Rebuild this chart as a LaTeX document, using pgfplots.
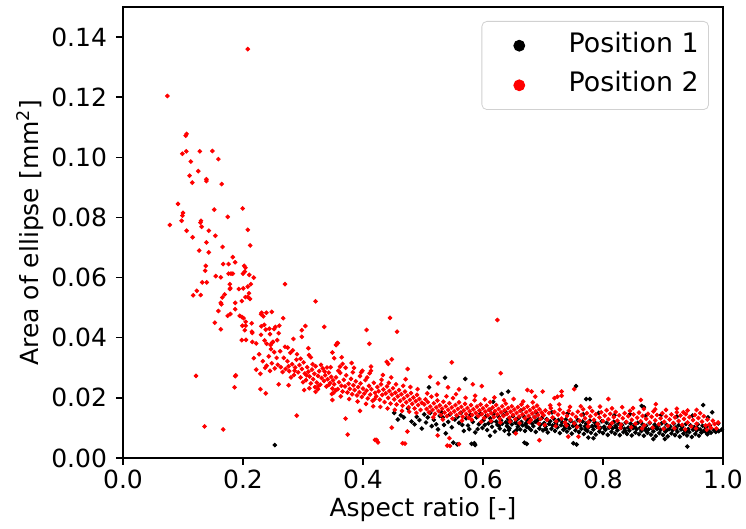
\documentclass[border=0pt]{standalone}
\usepackage{fontspec}
\setmainfont{DejaVu Sans}
\usepackage{pgfplots}
\pgfplotsset{compat=1.18}
\newcommand{\fs}{\fontsize{12.5}{15}\selectfont}
\newcommand{\lfs}{\fontsize{13.4}{16}\selectfont}
\begin{document}
\begin{tikzpicture}
\begin{axis}[
  scale only axis, width=300pt, height=225.5pt,
  xmin=0, xmax=1, ymin=0, ymax=0.15,
  xtick={0,0.2,0.4,0.6,0.8,1.0},
  ytick={0,0.02,0.04,0.06,0.08,0.10,0.12,0.14},
  scaled ticks=false,
  xticklabel style={yshift=1pt, /pgf/number format/.cd,fixed,fixed zerofill,precision=1,assume math mode=true},
  yticklabel style={xshift=-1pt, /pgf/number format/.cd,fixed,fixed zerofill,precision=2,assume math mode=true},
  tick label style={font=\fs},
  label style={font=\fs},
  tick align=outside, xtick pos=left, ytick pos=left,
  major tick length=3.5pt,
  every tick/.style={black, line width=0.75pt},
  axis line style={line width=0.75pt},
  xlabel={Aspect ratio [-]},
  ylabel={Area of ellipse [mm\textsuperscript{2}]},
  xlabel style={at={(rel axis cs:0.5,0)}, anchor=center, yshift=-26pt},
  ylabel style={at={(rel axis cs:0,0.5)}, anchor=center, yshift=46.5pt},
  legend style={at={(rel axis cs:1,1)}, xshift=-7pt, yshift=-7pt, anchor=north east,
    draw=black!18, rounded corners=2.5pt, font=\lfs, inner xsep=3pt, inner ysep=4pt,
    row sep=3.5pt, nodes={inner sep=2pt, text height=9.5pt, text depth=2.8pt}},
  legend cell align=left,
  legend image code/.code={\path (0pt,0pt) (38pt,0pt); \fill (15.5pt,0pt) circle (2.75pt);},
]
\addplot[only marks, mark=*, mark size=0.95pt, color=black] table {
x y
0.253 0.0043
0.5367 0.0267
0.5705 0.0263
0.468 0.0135
0.481 0.0121
0.4895 0.0137
0.475 0.0165
0.508 0.0135
0.5145 0.0106
0.522 0.0112
0.502 0.0145
0.533 0.0135
0.531 0.0152
0.538 0.0082
0.542 0.0120
0.5505 0.0051
0.5655 0.0110
0.5772 0.0096
0.591 0.0096
0.581 0.0047
0.5855 0.0049
0.5577 0.0137
0.603 0.0110
0.6117 0.0074
0.6145 0.0121
0.631 0.0213
0.642 0.0221
0.6433 0.0093
0.6433 0.0079
0.669 0.0051
0.656 0.0093
0.671 0.0110
0.617 0.0187
0.510 0.0235
0.755 0.0239
0.772 0.0196
0.778 0.0196
0.8645 0.0173
0.868 0.0169
0.967 0.0176
0.982 0.0152
0.992 0.0115
0.998 0.0095
0.9405 0.0038
0.7505 0.0049
0.784 0.0066
0.7755 0.0068
0.903 0.0063
0.884 0.0063
0.557 0.0045
0.587 0.0043
0.673 0.0047
0.756 0.0045
0.452 0.0150
0.458 0.0128
0.463 0.0142
0.486 0.0112
0.494 0.0126
0.498 0.0098
0.505 0.0118
0.512 0.0150
0.518 0.0127
0.525 0.0095
0.528 0.0140
0.535 0.0110
0.545 0.0145
0.548 0.0102
0.553 0.0128
0.560 0.0117
0.563 0.0150
0.568 0.0090
0.572 0.0132
0.575 0.0108
0.579 0.0143
0.583 0.0120
0.587 0.0085
0.589 0.0135
0.593 0.0112
0.596 0.0148
0.599 0.0100
0.601 0.0126
0.605 0.0139
0.607 0.0093
0.609 0.0115
0.612 0.0132
0.615 0.0104
0.618 0.0145
0.620 0.0088
0.622 0.0121
0.624 0.0110
0.626 0.0137
0.628 0.0098
0.630 0.0125
0.632 0.0114
0.634 0.0142
0.636 0.0091
0.638 0.0119
0.640 0.0106
0.642 0.0130
0.644 0.0099
0.646 0.0123
0.648 0.0112
0.650 0.0140
0.652 0.0086
0.654 0.0117
0.656 0.0127
0.658 0.0104
0.660 0.0134
0.662 0.0095
0.664 0.0120
0.666 0.0109
0.668 0.0138
0.670 0.0090
0.672 0.0116
0.674 0.0126
0.676 0.0101
0.678 0.0131
0.680 0.0093
0.682 0.0114
0.684 0.0106
0.686 0.0136
0.688 0.0087
0.690 0.0119
0.692 0.0128
0.694 0.0098
0.696 0.0111
0.698 0.0133
0.700 0.0092
0.702 0.0116
0.704 0.0105
0.706 0.0129
0.708 0.0085
0.710 0.0113
0.712 0.0122
0.714 0.0097
0.716 0.0108
0.718 0.0131
0.720 0.0090
0.722 0.0112
0.724 0.0102
0.726 0.0126
0.728 0.0083
0.730 0.0109
0.732 0.0119
0.734 0.0094
0.736 0.0106
0.738 0.0128
0.740 0.0088
0.742 0.0110
0.744 0.0099
0.746 0.0123
0.748 0.0081
0.750 0.0107
0.752 0.0117
0.754 0.0092
0.756 0.0104
0.758 0.0126
0.760 0.0086
0.762 0.0108
0.764 0.0097
0.766 0.0121
0.768 0.0080
0.770 0.0105
0.772 0.0115
0.774 0.0090
0.776 0.0102
0.778 0.0124
0.780 0.0084
0.782 0.0106
0.784 0.0095
0.786 0.0119
0.788 0.0078
0.790 0.0103
0.792 0.0113
0.794 0.0088
0.796 0.0100
0.798 0.0122
0.800 0.0083
0.802 0.0104
0.804 0.0094
0.806 0.0117
0.808 0.0077
0.810 0.0101
0.812 0.0111
0.814 0.0087
0.816 0.0099
0.818 0.0120
0.820 0.0081
0.822 0.0102
0.824 0.0092
0.826 0.0115
0.828 0.0076
0.830 0.0100
0.832 0.0110
0.834 0.0086
0.836 0.0097
0.838 0.0118
0.840 0.0080
0.842 0.0101
0.844 0.0091
0.846 0.0114
0.848 0.0075
0.850 0.0099
0.852 0.0108
0.854 0.0085
0.856 0.0096
0.858 0.0117
0.860 0.0079
0.862 0.0100
0.864 0.0090
0.866 0.0112
0.868 0.0074
0.870 0.0098
0.872 0.0107
0.874 0.0084
0.876 0.0095
0.878 0.0116
0.880 0.0078
0.882 0.0099
0.884 0.0089
0.886 0.0111
0.888 0.0073
0.890 0.0097
0.892 0.0106
0.894 0.0083
0.896 0.0094
0.898 0.0115
0.900 0.0077
0.902 0.0098
0.904 0.0088
0.906 0.0110
0.908 0.0072
0.910 0.0096
0.912 0.0105
0.914 0.0082
0.916 0.0093
0.918 0.0114
0.920 0.0076
0.922 0.0097
0.924 0.0087
0.926 0.0109
0.928 0.0071
0.930 0.0095
0.932 0.0104
0.934 0.0081
0.936 0.0092
0.938 0.0113
0.940 0.0075
0.942 0.0096
0.944 0.0086
0.946 0.0108
0.948 0.0070
0.950 0.0094
0.952 0.0103
0.954 0.0080
0.956 0.0091
0.958 0.0112
0.960 0.0074
0.962 0.0095
0.964 0.0085
0.966 0.0107
0.968 0.0090
0.970 0.0093
0.972 0.0102
0.974 0.0079
0.976 0.0090
0.978 0.0108
0.980 0.0084
0.985 0.0092
0.988 0.0087
0.993 0.0089
0.611 0.0160
0.637 0.0155
0.663 0.0158
0.689 0.0150
0.715 0.0152
0.741 0.0148
0.767 0.0145
0.793 0.0150
0.819 0.0142
0.845 0.0146
0.871 0.0140
0.897 0.0143
0.923 0.0138
0.949 0.0141
0.975 0.0135
0.627 0.0108
0.641 0.0117
0.659 0.0112
0.673 0.0103
0.687 0.0121
0.705 0.0096
0.721 0.0118
0.737 0.0100
0.753 0.0112
0.771 0.0094
0.787 0.0108
0.803 0.0098
0.821 0.0107
0.837 0.0090
0.853 0.0103
0.871 0.0092
0.887 0.0102
0.905 0.0090
0.921 0.0101
0.939 0.0089
0.957 0.0099
0.971 0.0087
};
\addlegendentry{Position 1}
\addplot[only marks, mark=*, mark size=0.95pt, color=red] table {
x y
0.208 0.136
0.074 0.1204
0.106 0.1078
0.1045 0.1072
0.099 0.1012
0.1055 0.1020
0.128 0.1020
0.149 0.1021
0.159 0.0994
0.113 0.0986
0.1255 0.0954
0.111 0.0939
0.139 0.0927
0.1155 0.0916
0.139 0.0921
0.1645 0.0911
0.0917 0.0845
0.100 0.0815
0.099 0.0806
0.152 0.0826
0.1995 0.0830
0.078 0.0775
0.0978 0.0789
0.130 0.0789
0.129 0.0783
0.1745 0.0802
0.131 0.0769
0.106 0.0756
0.143 0.0756
0.208 0.0759
0.116 0.0734
0.154 0.0739
0.139 0.0717
0.166 0.0702
0.212 0.0707
0.127 0.0690
0.143 0.0684
0.183 0.0668
0.176 0.0645
0.187 0.0651
0.138 0.0639
0.137 0.0623
0.202 0.0639
0.204 0.0633
0.167 0.0645
0.203 0.0620
0.200 0.0613
0.176 0.0613
0.180 0.0613
0.183 0.0613
0.1545 0.0605
0.163 0.0601
0.2105 0.0609
0.218 0.0600
0.132 0.0584
0.1395 0.0584
0.178 0.0578
0.179 0.0565
0.178 0.0562
0.213 0.0578
0.208 0.0570
0.2005 0.0564
0.193 0.0562
0.270 0.0578
0.123 0.0556
0.117 0.0541
0.1295 0.0542
0.1695 0.0544
0.1655 0.0534
0.210 0.0548
0.204 0.0535
0.2117 0.0529
0.2078 0.0536
0.163 0.0516
0.164 0.0511
0.187 0.0516
0.198 0.0522
0.321 0.0521
0.187 0.0495
0.159 0.0489
0.179 0.0479
0.1745 0.0473
0.1945 0.0473
0.198 0.0469
0.201 0.0465
0.2045 0.0453
0.153 0.0450
0.163 0.0428
0.199 0.0440
0.2045 0.0440
0.203 0.0425
0.2145 0.0448
0.215 0.0420
0.2155 0.0416
0.231 0.0483
0.230 0.0478
0.234 0.0471
0.239 0.0483
0.248 0.0486
0.267 0.0465
0.2355 0.0443
0.2305 0.0438
0.238 0.0427
0.244 0.0430
0.252 0.0429
0.254 0.0436
0.2605 0.0440
0.230 0.0410
0.245 0.0412
0.2595 0.0415
0.198 0.0392
0.205 0.0393
0.2155 0.0386
0.222 0.0381
0.236 0.0391
0.2395 0.0380
0.246 0.0376
0.248 0.0382
0.257 0.0392
0.250 0.0386
0.2745 0.0367
0.284 0.0396
0.298 0.0425
0.298 0.0403
0.304 0.0439
0.3355 0.0436
0.309 0.0365
0.3555 0.0376
0.357 0.0382
0.2467 0.0362
0.1217 0.0273
0.188 0.0275
0.187 0.0272
0.186 0.0235
0.136 0.0105
0.167 0.0095
0.2895 0.0141
0.229 0.0229
0.238 0.0215
0.2595 0.0245
0.276 0.0242
0.302 0.0226
0.3105 0.0232
0.321 0.0220
0.325 0.0229
0.349 0.0193
0.348 0.0213
0.351 0.0217
0.355 0.0226
0.218 0.0332
0.227 0.0345
0.222 0.0294
0.229 0.0280
0.2395 0.0307
0.245 0.0290
0.258 0.0310
0.263 0.0302
0.268 0.0333
0.271 0.0296
0.274 0.0322
0.277 0.0289
0.279 0.0350
0.282 0.0312
0.285 0.0276
0.287 0.0301
0.289 0.0327
0.292 0.0285
0.294 0.0309
0.296 0.0268
0.298 0.0296
0.301 0.0318
0.303 0.0281
0.305 0.0259
0.307 0.0302
0.309 0.0287
0.311 0.0271
0.313 0.0335
0.315 0.0294
0.317 0.0262
0.319 0.0280
0.321 0.0305
0.323 0.0251
0.325 0.0273
0.327 0.0289
0.329 0.0244
0.331 0.0266
0.333 0.0298
0.335 0.0256
0.337 0.0275
0.339 0.0238
0.341 0.0262
0.343 0.0284
0.345 0.0249
0.347 0.0270
0.349 0.0231
0.262 0.0355
0.270 0.0370
0.280 0.0268
0.290 0.0345
0.300 0.0252
0.310 0.0342
0.320 0.0236
0.330 0.0310
0.340 0.0301
0.350 0.0258
0.256 0.0333
0.266 0.0286
0.276 0.0305
0.286 0.0290
0.296 0.0330
0.306 0.0275
0.316 0.0312
0.326 0.0240
0.336 0.0288
0.346 0.0302
0.253 0.0298
0.283 0.0358
0.313 0.0248
0.343 0.0243
0.233 0.0322
0.243 0.0338
0.248 0.0315
0.252 0.0352
0.237 0.0300
0.352 0.0245
0.355 0.0268
0.358 0.0229
0.360 0.0252
0.362 0.0283
0.364 0.0240
0.366 0.0221
0.368 0.0260
0.370 0.0238
0.372 0.0275
0.374 0.0218
0.376 0.0247
0.378 0.0230
0.380 0.0263
0.382 0.0212
0.384 0.0242
0.386 0.0226
0.388 0.0255
0.390 0.0208
0.392 0.0236
0.394 0.0219
0.396 0.0248
0.398 0.0203
0.400 0.0231
0.402 0.0214
0.404 0.0259
0.406 0.0224
0.408 0.0198
0.410 0.0240
0.412 0.0211
0.414 0.0229
0.416 0.0190
0.418 0.0250
0.420 0.0217
0.422 0.0205
0.424 0.0236
0.426 0.0222
0.428 0.0194
0.430 0.0245
0.432 0.0210
0.434 0.0228
0.436 0.0186
0.438 0.0215
0.440 0.0238
0.442 0.0200
0.444 0.0223
0.446 0.0181
0.448 0.0211
0.450 0.0232
0.452 0.0195
0.454 0.0217
0.456 0.0178
0.458 0.0205
0.460 0.0226
0.462 0.0190
0.464 0.0212
0.466 0.0174
0.468 0.0198
0.470 0.0221
0.472 0.0185
0.474 0.0207
0.476 0.0169
0.478 0.0193
0.480 0.0216
0.482 0.0180
0.484 0.0201
0.486 0.0165
0.488 0.0189
0.490 0.0210
0.492 0.0176
0.494 0.0196
0.496 0.0160
0.498 0.0184
0.359 0.0290
0.371 0.0300
0.383 0.0285
0.395 0.0272
0.407 0.0268
0.419 0.0195
0.431 0.0260
0.443 0.0250
0.455 0.0245
0.467 0.0240
0.479 0.0236
0.491 0.0229
0.363 0.0205
0.377 0.0196
0.391 0.0188
0.405 0.0180
0.417 0.0172
0.429 0.0170
0.441 0.0165
0.453 0.0160
0.465 0.0157
0.477 0.0154
0.489 0.0150
0.385 0.0300
0.399 0.0290
0.411 0.0282
0.433 0.0276
0.447 0.0268
0.471 0.0262
0.445 0.0466
0.406 0.0426
0.4567 0.0420
0.4105 0.0380
0.624 0.0459
0.349 0.0351
0.352 0.0332
0.355 0.0376
0.358 0.0382
0.3645 0.0335
0.381 0.0316
0.4395 0.0320
0.4422 0.0313
0.448 0.0328
0.548 0.0318
0.6295 0.0282
0.4745 0.0296
0.4133 0.0304
0.4133 0.0290
0.397 0.0285
0.3617 0.0304
0.366 0.0313
0.371 0.0131
0.3745 0.0078
0.420 0.0060
0.4228 0.0060
0.466 0.0049
0.448 0.0101
0.474 0.0088
0.395 0.0157
0.5245 0.0075
0.5405 0.0041
0.544 0.0066
0.6545 0.0082
0.425 0.0052
0.470 0.0048
0.545 0.0040
0.560 0.0046
0.502 0.0178
0.504 0.0195
0.506 0.0163
0.508 0.0186
0.510 0.0152
0.512 0.0171
0.514 0.0204
0.516 0.0160
0.518 0.0182
0.520 0.0147
0.522 0.0168
0.524 0.0191
0.526 0.0156
0.528 0.0175
0.530 0.0143
0.532 0.0164
0.534 0.0187
0.536 0.0151
0.538 0.0172
0.540 0.0139
0.542 0.0160
0.544 0.0182
0.546 0.0148
0.548 0.0168
0.550 0.0199
0.552 0.0155
0.554 0.0176
0.556 0.0142
0.558 0.0163
0.560 0.0185
0.562 0.0150
0.564 0.0170
0.566 0.0137
0.568 0.0158
0.570 0.0180
0.572 0.0146
0.574 0.0166
0.576 0.0134
0.578 0.0155
0.580 0.0176
0.582 0.0143
0.584 0.0162
0.586 0.0192
0.588 0.0150
0.590 0.0171
0.592 0.0139
0.594 0.0158
0.596 0.0178
0.598 0.0146
0.600 0.0165
0.602 0.0133
0.604 0.0154
0.606 0.0174
0.608 0.0142
0.610 0.0161
0.612 0.0186
0.614 0.0149
0.616 0.0168
0.618 0.0136
0.620 0.0156
0.622 0.0176
0.624 0.0145
0.626 0.0163
0.628 0.0131
0.630 0.0152
0.632 0.0172
0.634 0.0140
0.636 0.0159
0.638 0.0181
0.640 0.0147
0.642 0.0166
0.644 0.0134
0.646 0.0154
0.648 0.0172
0.650 0.0143
0.652 0.0161
0.654 0.0129
0.656 0.0150
0.658 0.0169
0.660 0.0138
0.662 0.0157
0.664 0.0178
0.666 0.0145
0.668 0.0164
0.670 0.0132
0.672 0.0152
0.674 0.0171
0.676 0.0140
0.678 0.0159
0.680 0.0127
0.682 0.0148
0.684 0.0167
0.686 0.0136
0.688 0.0155
0.690 0.0174
0.692 0.0143
0.694 0.0162
0.696 0.0130
0.698 0.0151
0.507 0.0215
0.523 0.0210
0.539 0.0205
0.555 0.0212
0.571 0.0200
0.587 0.0207
0.603 0.0195
0.619 0.0201
0.635 0.0192
0.651 0.0196
0.667 0.0188
0.683 0.0185
0.517 0.0135
0.533 0.0128
0.549 0.0131
0.565 0.0124
0.581 0.0127
0.597 0.0120
0.613 0.0123
0.629 0.0118
0.645 0.0121
0.661 0.0116
0.677 0.0119
0.693 0.0114
0.674 0.0226
0.681 0.0221
0.687 0.0204
0.6995 0.0221
0.731 0.0221
0.719 0.0199
0.724 0.0204
0.731 0.0207
0.752 0.0229
0.809 0.0196
0.863 0.0193
0.888 0.0179
0.934 0.0152
0.956 0.0160
0.694 0.0059
0.742 0.0071
0.759 0.0071
0.598 0.0239
0.512 0.0270
0.525 0.0248
0.5417 0.0235
0.560 0.0228
0.583 0.0245
0.701 0.0142
0.704 0.0158
0.707 0.0127
0.710 0.0149
0.713 0.0166
0.716 0.0135
0.719 0.0153
0.722 0.0122
0.725 0.0144
0.728 0.0161
0.731 0.0131
0.734 0.0150
0.737 0.0118
0.740 0.0140
0.743 0.0157
0.746 0.0127
0.749 0.0146
0.752 0.0115
0.755 0.0137
0.758 0.0154
0.761 0.0124
0.764 0.0143
0.767 0.0162
0.770 0.0132
0.773 0.0149
0.776 0.0119
0.779 0.0139
0.782 0.0156
0.785 0.0127
0.788 0.0145
0.791 0.0113
0.794 0.0135
0.797 0.0152
0.800 0.0123
0.803 0.0141
0.806 0.0159
0.809 0.0129
0.812 0.0147
0.815 0.0116
0.818 0.0136
0.821 0.0153
0.824 0.0124
0.827 0.0142
0.830 0.0111
0.833 0.0132
0.836 0.0149
0.839 0.0120
0.842 0.0139
0.845 0.0157
0.848 0.0127
0.851 0.0145
0.854 0.0114
0.857 0.0134
0.860 0.0151
0.863 0.0122
0.866 0.0140
0.869 0.0109
0.872 0.0130
0.875 0.0147
0.878 0.0118
0.881 0.0137
0.884 0.0155
0.887 0.0125
0.890 0.0143
0.893 0.0112
0.896 0.0132
0.899 0.0149
0.902 0.0120
0.905 0.0138
0.908 0.0107
0.911 0.0128
0.914 0.0145
0.917 0.0116
0.920 0.0135
0.923 0.0152
0.926 0.0123
0.929 0.0141
0.932 0.0110
0.935 0.0130
0.938 0.0146
0.941 0.0118
0.944 0.0136
0.947 0.0105
0.950 0.0126
0.953 0.0143
0.956 0.0114
0.959 0.0133
0.962 0.0149
0.965 0.0121
0.968 0.0139
0.971 0.0108
0.974 0.0128
0.977 0.0111
0.980 0.0100
0.983 0.0124
0.986 0.0113
0.989 0.0098
0.992 0.0118
0.712 0.0175
0.727 0.0178
0.745 0.0170
0.763 0.0172
0.778 0.0168
0.795 0.0171
0.815 0.0165
0.832 0.0169
0.850 0.0166
0.868 0.0163
0.887 0.0162
0.905 0.0160
0.923 0.0164
0.941 0.0158
0.703 0.0110
0.721 0.0106
0.739 0.0108
0.757 0.0103
0.775 0.0105
0.793 0.0101
0.811 0.0104
0.829 0.0100
0.847 0.0102
0.865 0.0098
0.883 0.0101
0.901 0.0097
0.919 0.0099
0.937 0.0095
0.955 0.0098
0.973 0.0094
};
\addlegendentry{Position 2}
\end{axis}
\pgfresetboundingbox
\path[use as bounding box] ([xshift=-61.5pt,yshift=-35.5pt]current axis.south west) rectangle ([xshift=11.5pt,yshift=3.5pt]current axis.north east);
\end{tikzpicture}
\end{document}
